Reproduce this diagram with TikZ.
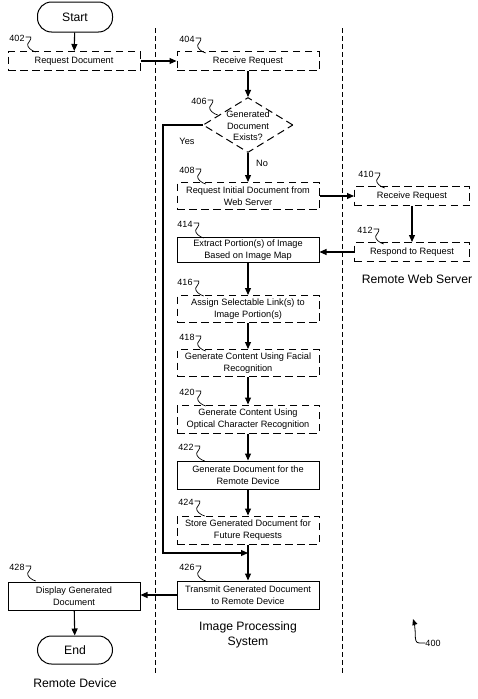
\documentclass[tikz,border=0pt]{standalone}
\usepackage{fontspec}
\setmainfont{Liberation Sans}
\usetikzlibrary{arrows.meta,shapes.geometric}
\newcommand{\sqg}[1]{\draw[line width=0.7pt] (#1.east) ++(1,-1) -- ++(5,0) .. controls +(1,2) and +(1,-2) .. ++(-3,7) .. controls +(-1,3) and +(-4,-1) .. ++(8,8);}
\begin{document}
\begin{tikzpicture}[x=1pt,y=-1pt,
  box/.style={draw, line width=1pt, rectangle, align=center, inner sep=1pt,
    font=\fontsize{9.2}{11.5}\selectfont, minimum width=142pt, minimum height=27pt},
  dbox/.style={box, dash pattern=on 7.5pt off 4.5pt},
  term/.style={draw, line width=1pt, rounded corners=14pt, minimum width=75pt,
    minimum height=30pt, font=\fontsize{12.2}{14}\selectfont},
  num/.style={font=\fontsize{9}{10}\selectfont, inner sep=0pt},
  txt/.style={font=\fontsize{9.2}{11.5}\selectfont, align=center, inner sep=0pt},
  title/.style={font=\fontsize{12.2}{14.5}\selectfont, align=center, inner sep=0pt},
  lane/.style={line width=0.8pt, dash pattern=on 5pt off 3pt},
  arr/.style={line width=1.1pt, -{Triangle[length=7pt,width=6pt]}}]
\useasboundingbox (0,0) rectangle (478,699);

% lanes
\coordinate (la1) at (155,28); \coordinate (la2) at (155,673);
\coordinate (lb1) at (342,28); \coordinate (lb2) at (342,673);
\draw[lane] (la1) -- (la2);
\draw[lane] (lb1) -- (lb2);

% nodes
\node[term] (start) at (75,17) {Start};
\node[dbox, minimum width=132pt, minimum height=19pt] (n402) at (74,61) {Request Document};
\node[dbox, minimum height=19pt] (n404) at (248,61) {Receive Request};
\node[diamond, draw, line width=1pt, dash pattern=on 7.5pt off 4.5pt, aspect=1.64,
  minimum width=90pt, minimum height=55pt, inner sep=0pt] (d406) at (248,125) {};
\node[txt] (t406) at (248,126) {Generated\\Document\\Exists?};
\node[dbox] (n408) at (248,196) {Request Initial Document from\\Web Server};
\node[dbox, minimum width=115pt, minimum height=19pt] (n410) at (412,196) {Receive Request};
\node[dbox, minimum width=115pt, minimum height=19pt] (n412) at (412,252) {Respond to Request};
\node[box, minimum height=25pt] (n414) at (248,250) {Extract Portion(s) of Image\\Based on Image Map};
\node[dbox] (n416) at (248,309) {Assign Selectable Link(s) to\\Image Portion(s)};
\node[dbox] (n418) at (248,363) {Generate Content Using Facial\\Recognition};
\node[dbox, minimum height=28pt] (n420) at (248,419) {Generate Content Using\\Optical Character Recognition};
\node[box, minimum height=28pt] (n422) at (248,475) {Generate Document for the\\Remote Device};
\node[dbox, minimum height=28pt] (n424) at (248,530) {Store Generated Document for\\Future Requests};
\node[box, minimum height=28pt] (n426) at (248,595) {Transmit Generated Document\\to Remote Device};
\node[box, minimum width=132pt, minimum height=28pt] (n428) at (74,596) {Display Generated\\Document};
\node[term, minimum height=28pt] (endn) at (75,650) {End};

% number labels
\node[num] (l402) at (17,38) {402}; \sqg{l402}
\node[num] (l404) at (187,39) {404}; \sqg{l404}
\node[num] (l406) at (199,101) {406}; \sqg{l406}
\node[num] (l408) at (187,170) {408}; \sqg{l408}
\node[num] (l410) at (366,174) {410}; \sqg{l410}
\node[num] (l412) at (365,230) {412}; \sqg{l412}
\node[num] (l414) at (185,224) {414}; \sqg{l414}
\node[num] (l416) at (185,282) {416}; \sqg{l416}
\node[num] (l418) at (187,337) {418}; \sqg{l418}
\node[num] (l420) at (187,392) {420}; \sqg{l420}
\node[num] (l422) at (186,447) {422}; \sqg{l422}
\node[num] (l424) at (186,502) {424}; \sqg{l424}
\node[num] (l426) at (187,567) {426}; \sqg{l426}
\node[num] (l428) at (17,567) {428}; \sqg{l428}

% connectors
\draw[arr] (start) -- (n402);
\draw[arr] (n402) -- (n404);
\draw[arr] (n404) -- (d406);
\draw[arr] (d406.south) -- (n408.north);
\node[txt] (no) at (262,163) {No};
\coordinate (yc) at (163,125);
\coordinate (ym) at (248,553);
\draw[arr] (d406.west) -- (yc) |- (ym);
\node[txt] (yes) at (187,141) {Yes};
\draw[arr] (n408.east |- n410) -- (n410.west);
\draw[arr] (n410) -- (n412);
\draw[arr] (n412.west) -- (n412 -| n414.east);
\draw[arr] (n414) -- (n416);
\draw[arr] (n416) -- (n418);
\draw[arr] (n418) -- (n420);
\draw[arr] (n420) -- (n422);
\draw[arr] (n422) -- (n424);
\draw[arr] (n424) -- (n426);
\draw[arr] (n426.west) -- (n428.east |- n426);
\draw[arr] (n428) -- (endn);

% titles
\node[title] (tws) at (417,279) {Remote Web Server};
\node[title] (tips) at (248,635) {Image Processing\\System};
\node[title] (trd) at (75,683) {Remote Device};

% figure number
\node[num] (l400) at (433,643) {400};
\coordinate (p400) at (413,619);
\draw[line width=0.8pt, -{Triangle[length=6pt,width=5pt]}] (l400.west) -- ++(-6,0)
  .. controls +(-4,0) and +(0,5) .. ++(-4,-9)
  .. controls +(0,-4) and +(1,3) .. (p400);
\end{tikzpicture}
\end{document}
